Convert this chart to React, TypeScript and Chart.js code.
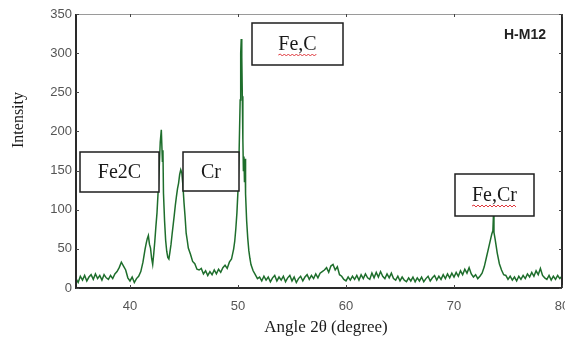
import { useEffect, useRef } from "react";
import { Chart, registerables } from "chart.js";
Chart.register(...registerables);

const angles = [
  35.0, 35.2, 35.4, 35.6, 35.8, 36.0, 36.2, 36.4, 36.6, 36.8,
  37.0, 37.2, 37.4, 37.6, 37.8, 38.0, 38.2, 38.4, 38.6, 38.8,
  39.0, 39.2, 39.4, 39.6, 39.8, 40.0, 40.2, 40.4, 40.6, 40.8,
  41.0, 41.2, 41.4, 41.5, 41.6, 41.7, 41.8, 41.9, 42.0, 42.1,
  42.2, 42.3, 42.4, 42.5, 42.6, 42.7, 42.8, 42.9, 43.0, 43.05,
  43.1, 43.2, 43.3, 43.4, 43.5, 43.6, 43.7, 43.8, 43.9, 44.0,
  44.1, 44.2, 44.3, 44.4, 44.5, 44.6, 44.7, 44.8, 44.9, 45.0,
  45.1, 45.2, 45.3, 45.4, 45.6, 45.8, 46.0, 46.2, 46.4, 46.6,
  46.8, 47.0, 47.2, 47.4, 47.6, 47.8, 48.0, 48.2, 48.4, 48.6,
  48.8, 49.0, 49.2, 49.4, 49.6, 49.7, 49.8, 49.9, 50.0, 50.1,
  50.2, 50.25, 50.3, 50.35, 50.4, 50.45, 50.5, 50.55, 50.6, 50.65,
  50.7, 50.8, 50.9, 51.0, 51.1, 51.2, 51.4, 51.6, 51.8, 52.0,
  52.2, 52.4,
  52.6, 52.8, 53.0, 53.2, 53.4, 53.6, 53.8, 54.0, 54.2, 54.4,
  54.6, 54.8, 55.0, 55.2, 55.4, 55.6, 55.8, 56.0, 56.2, 56.4,
  56.6, 56.8, 57.0, 57.2, 57.4, 57.6, 57.8, 58.0, 58.2, 58.4,
  58.6, 58.8, 59.0, 59.2, 59.4, 59.6, 59.8, 60.0, 60.2, 60.4,
  60.6, 60.8, 61.0, 61.2, 61.4, 61.6, 61.8, 62.0, 62.2, 62.4,
  62.6, 62.8, 63.0, 63.2, 63.4, 63.6, 63.8, 64.0, 64.2, 64.4,
  64.6, 64.8, 65.0, 65.2, 65.4, 65.6, 65.8, 66.0, 66.2, 66.4,
  66.6, 66.8, 67.0, 67.2, 67.4, 67.6, 67.8, 68.0, 68.2, 68.4,
  68.6, 68.8, 69.0, 69.2, 69.4, 69.6, 69.8, 70.0, 70.2, 70.4,
  70.6, 70.8, 71.0, 71.2, 71.4, 71.6, 71.8, 72.0, 72.2, 72.4,
  72.6, 72.8, 73.0, 73.2, 73.4, 73.5, 73.6, 73.65, 73.7, 73.8,
  73.9, 74.0, 74.2, 74.4, 74.6, 74.8, 75.0, 75.2, 75.4, 75.6,
  75.8, 76.0, 76.2, 76.4, 76.6, 76.8, 77.0, 77.2, 77.4, 77.6,
  77.8, 78.0, 78.2, 78.4, 78.6, 78.8, 79.0, 79.2, 79.4, 79.6,
  79.8, 80.0,
];

const intensity = [
  12, 7, 15, 10, 16, 9, 14, 17, 11, 18,
  12, 16, 10, 17, 13, 11, 16, 12, 18, 21,
  26, 33, 28, 23, 13, 9, 14, 7, 12, 15,
  21, 33, 50, 57, 63, 67, 56, 51, 38, 30,
  44, 60, 79, 96, 122, 152, 186, 202, 162, 176,
  121, 86, 61, 47, 39, 37, 46, 56, 69, 81,
  93, 106, 117, 127, 134, 145, 151, 147, 131, 109,
  91, 70, 61, 51, 43, 34, 31, 24, 23, 25,
  18, 22, 16, 21, 17, 23, 18, 24, 20, 26,
  29, 25, 33, 37, 50, 60, 76, 96, 125, 172,
  240, 300, 318, 295, 245, 190, 150, 168, 135, 165,
  120, 86, 64, 48, 38, 30, 22, 17, 12, 14,
  9, 15,
  10, 14, 8, 13, 16, 9, 14, 10, 15, 8,
  13, 16, 9, 14, 7, 12, 15, 9, 14, 17,
  11, 16, 12, 18, 13, 19, 21, 23, 26, 20,
  28, 30, 23, 27, 17, 15, 11, 9, 14, 10,
  15, 11, 16, 10, 17, 12, 18, 13, 11, 19,
  13, 20, 14, 21, 15, 12, 18, 13, 19, 12,
  10, 15, 9, 14, 10, 8, 13, 9, 14, 8,
  13, 9, 14, 8, 12, 15, 9, 13, 16, 10,
  15, 11, 17, 12, 18, 13, 19, 14, 20, 15,
  22, 17, 24, 19, 26, 18, 14, 17, 12, 15,
  19, 27, 39, 51, 63, 69, 73, 92, 71, 63,
  54, 45, 31, 23, 17, 16, 11, 15, 10, 14,
  9, 15, 11, 16, 12, 18, 14, 20, 15, 22,
  17, 25, 16, 13, 11, 16, 10, 15, 11, 16,
  12, 15,
];

const xTicks = [40, 50, 60, 70, 80];
const yTicks = [0, 50, 100, 150, 200, 250, 300, 350];
const xTitle = "Angle 2\u03b8 (degree)";
const yTitle = "Intensity";
const sampleName = "H-M12";
const peakLabels = ["Fe2C", "Cr", "Fe,C", "Fe,Cr"];

export default function App() {
  const ref = useRef<HTMLCanvasElement | null>(null);

  useEffect(() => {
    document.body.style.margin = "0";
    const canvas = ref.current;
    if (!canvas) return;

    const boxes = [
      { text: peakLabels[0], l: 80, t: 152, r: 159, b: 192, underline: false },
      { text: peakLabels[1], l: 183, t: 152, r: 239, b: 191, underline: false },
      { text: peakLabels[2], l: 252, t: 23, r: 343, b: 65, underline: true },
      { text: peakLabels[3], l: 455, t: 174, r: 534, b: 216, underline: true },
    ];

    const decor = {
      id: "decor",
      afterDatasetsDraw(chart: any) {
        const ctx = chart.ctx;
        const { left, right, top, bottom } = chart.chartArea;
        const xs = chart.scales.x;
        const ys = chart.scales.y;
        ctx.save();
        // frame
        ctx.strokeStyle = "#9a9a9a";
        ctx.lineWidth = 1;
        ctx.beginPath();
        ctx.moveTo(left, top + 0.5);
        ctx.lineTo(right, top + 0.5);
        ctx.stroke();
        ctx.strokeStyle = "#2a2a2a";
        ctx.lineWidth = 2;
        ctx.beginPath();
        ctx.moveTo(left, top);
        ctx.lineTo(left, bottom);
        ctx.lineTo(right, bottom);
        ctx.moveTo(right, top);
        ctx.lineTo(right, bottom);
        ctx.stroke();
        // inward ticks
        ctx.lineWidth = 1;
        ctx.strokeStyle = "#444";
        ctx.beginPath();
        for (const v of xTicks) {
          const px = Math.round(xs.getPixelForValue(v)) + 0.5;
          ctx.moveTo(px, top);
          ctx.lineTo(px, top + 3);
          ctx.moveTo(px, bottom);
          ctx.lineTo(px, bottom - 3);
        }
        for (const v of yTicks) {
          const py = Math.round(ys.getPixelForValue(v)) + 0.5;
          ctx.moveTo(left, py);
          ctx.lineTo(left + 3, py);
          ctx.moveTo(right, py);
          ctx.lineTo(right - 3, py);
        }
        ctx.stroke();

        // annotation boxes
        for (const bx of boxes) {
          ctx.fillStyle = "#ffffff";
          ctx.fillRect(bx.l, bx.t, bx.r - bx.l, bx.b - bx.t);
          ctx.strokeStyle = "#1e1e1e";
          ctx.lineWidth = 1.5;
          ctx.strokeRect(bx.l, bx.t, bx.r - bx.l, bx.b - bx.t);
          ctx.fillStyle = "#1a1a1a";
          ctx.font = '20px "Liberation Serif", "Times New Roman", serif';
          ctx.textAlign = "center";
          ctx.textBaseline = "middle";
          const cx = (bx.l + bx.r) / 2;
          const cy = (bx.t + bx.b) / 2 + 1;
          ctx.fillText(bx.text, cx, cy);
          if (bx.underline) {
            const w = ctx.measureText(bx.text).width;
            const x0 = cx - w / 2;
            const x1 = cx + w / 2;
            const uy = cy + 10;
            ctx.strokeStyle = "#e0393e";
            ctx.lineWidth = 1;
            ctx.beginPath();
            let up = true;
            ctx.moveTo(x0, uy);
            for (let x = x0 + 2; x <= x1; x += 2) {
              ctx.lineTo(x, uy + (up ? -1 : 1));
              up = !up;
            }
            ctx.stroke();
          }
        }

        // sample name
        ctx.fillStyle = "#222";
        ctx.font = 'bold 14px "Liberation Sans", Arial, sans-serif';
        ctx.textAlign = "right";
        ctx.textBaseline = "middle";
        ctx.fillText(sampleName, 546, 35);

        // axis titles
        ctx.fillStyle = "#1a1a1a";
        ctx.font = '17px "Liberation Serif", "Times New Roman", serif';
        ctx.textAlign = "center";
        ctx.textBaseline = "middle";
        ctx.fillText(xTitle, 326, 328);
        ctx.save();
        ctx.translate(19, 120);
        ctx.rotate(-Math.PI / 2);
        ctx.font = '16px "Liberation Serif", "Times New Roman", serif';
        ctx.fillText(yTitle, 0, 0);
        ctx.restore();
        ctx.restore();
      },
    };

    const chart = new Chart(canvas, {
      type: "line",
      data: {
        datasets: [
          {
            data: angles.map((a, i) => ({ x: a, y: intensity[i] })),
            borderColor: "#1e6e2c",
            borderWidth: 1.5,
            pointRadius: 0,
            tension: 0,
            fill: false,
          },
        ],
      },
      options: {
        responsive: false,
        animation: false,
        layout: { padding: { top: 14, right: 3, left: 0, bottom: 0 } },
        plugins: { legend: { display: false }, tooltip: { enabled: false } },
        scales: {
          x: {
            type: "linear",
            min: 35,
            max: 80,
            afterBuildTicks: (s: any) => {
              s.ticks = xTicks.map((v) => ({ value: v }));
            },
            afterFit: (s: any) => {
              s.height = 52;
              s.paddingLeft = 0;
              s.paddingRight = 0;
            },
            grid: { display: false, drawTicks: false },
            border: { display: false },
            ticks: {
              padding: 11,
              color: "#555",
              font: { family: '"Liberation Sans", Arial, sans-serif', size: 13 },
              maxRotation: 0,
            },
          },
          y: {
            type: "linear",
            min: 0,
            max: 350,
            afterBuildTicks: (s: any) => {
              s.ticks = yTicks.map((v) => ({ value: v }));
            },
            afterFit: (s: any) => {
              s.width = 76;
              s.paddingTop = 0;
              s.paddingBottom = 0;
            },
            grid: { display: false, drawTicks: false },
            border: { display: false },
            ticks: {
              padding: 4,
              color: "#555",
              font: { family: '"Liberation Sans", Arial, sans-serif', size: 13 },
            },
          },
        },
      },
      plugins: [decor],
    });
    return () => chart.destroy();
  }, []);

  return (
    <div style={{ width: 565, height: 340 }}>
      <canvas ref={ref} width={565} height={340} />
    </div>
  );
}
